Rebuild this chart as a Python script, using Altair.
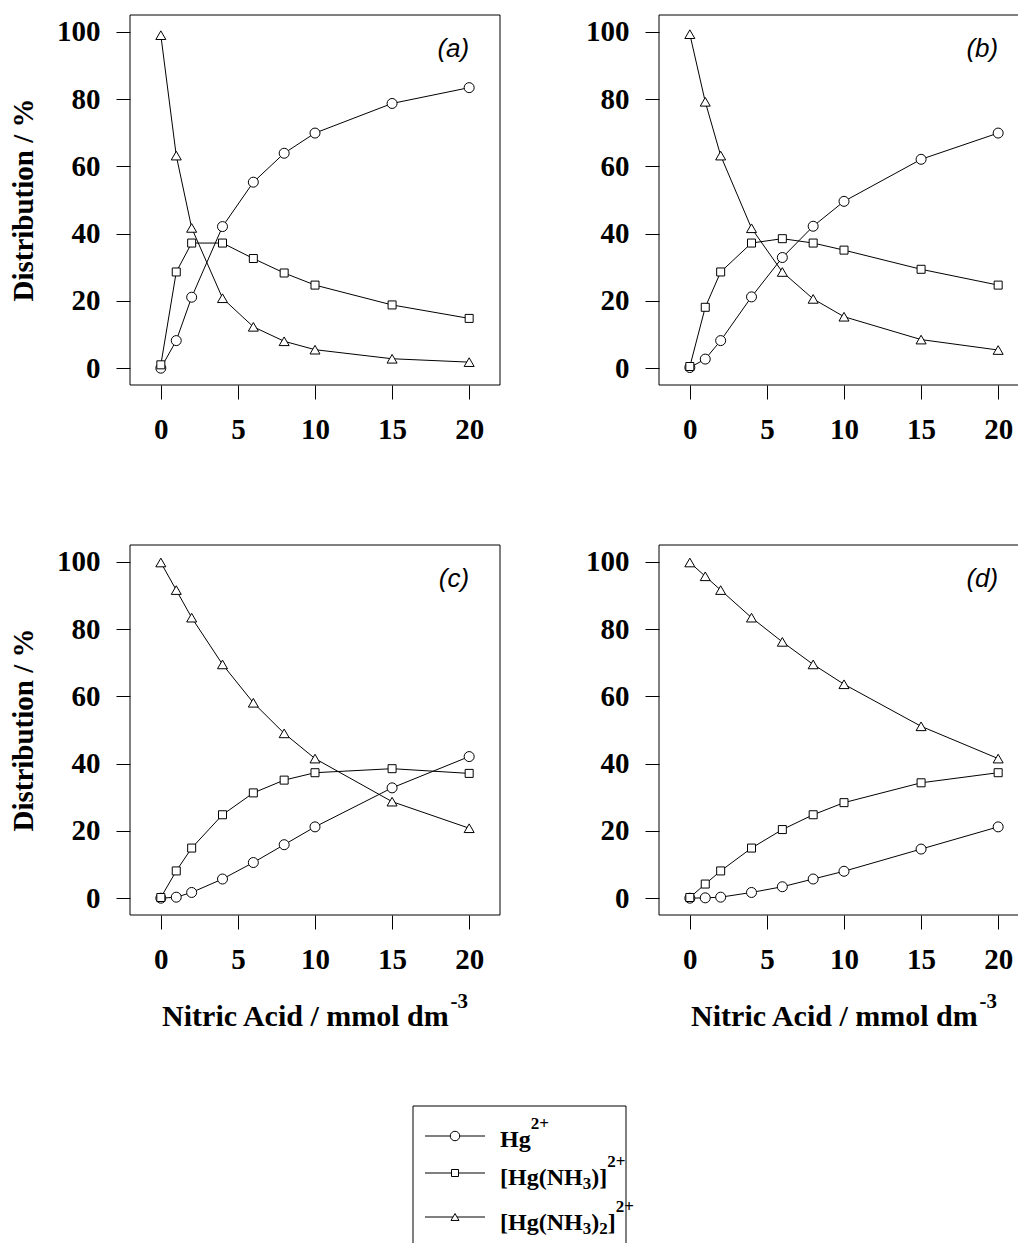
import altair as alt
import pandas as pd

# nitric acid concentration, mmol dm-3
conc = [0, 1, 2, 4, 6, 8, 10, 15, 20]

species = ["Hg2+", "[Hg(NH3)]2+", "[Hg(NH3)2]2+"]
shapes = ["circle", "square", "triangle-up"]

# distribution (%) of the three mercury species in each panel
a_hg = [0.0, 8.2, 21.1, 42.1, 55.3, 63.9, 69.9, 78.7, 83.4]
a_mono = [1.0, 28.6, 37.2, 37.2, 32.6, 28.3, 24.7, 18.8, 14.8]
a_bis = [99.0, 63.2, 41.7, 20.8, 12.3, 8.0, 5.5, 2.8, 1.8]

b_hg = [0.2, 2.7, 8.2, 21.2, 32.9, 42.2, 49.6, 62.1, 69.9]
b_mono = [0.5, 18.1, 28.6, 37.2, 38.5, 37.2, 35.1, 29.4, 24.7]
b_bis = [99.3, 79.2, 63.2, 41.6, 28.6, 20.6, 15.3, 8.5, 5.4]

c_hg = [0.0, 0.3, 1.7, 5.7, 10.6, 15.9, 21.2, 32.8, 42.1]
c_mono = [0.2, 8.1, 14.9, 24.8, 31.3, 35.1, 37.3, 38.5, 37.1]
c_bis = [99.8, 91.6, 83.4, 69.5, 58.1, 49.0, 41.5, 28.7, 20.8]

d_hg = [0.0, 0.1, 0.3, 1.7, 3.4, 5.7, 8.0, 14.6, 21.2]
d_mono = [0.2, 4.2, 8.1, 14.9, 20.4, 24.8, 28.4, 34.3, 37.3]
d_bis = [99.8, 95.7, 91.6, 83.4, 76.2, 69.5, 63.6, 51.1, 41.5]

x_ticks = [0, 5, 10, 15, 20]
y_ticks = [0, 20, 40, 60, 80, 100]

SERIF = "Liberation Serif"
SANS = "Liberation Sans"

PLOT_W, PLOT_H = 370, 370
RIGHT_W = 359
X_LO, X_HI = -2, 22
Y_LO, Y_HI = -5, 105
PX_PER_X = PLOT_W / (X_HI - X_LO)

# Times-compatible bold advance widths (em) for composing sub/superscripts
BOLD_W = {"[": .333, "]": .333, "(": .333, ")": .333, "H": .778, "g": .5,
          "N": .722, "2": .5, "3": .5, "+": .570, "-": .333, "i": .278,
          "t": .333, "r": .444, "c": .444, " ": .25, "A": .722, "d": .556,
          "/": .278, "m": .833, "o": .5, "l": .278}


def text_w(s, fs):
    return sum(BOLD_W[ch] for ch in s) * fs


def panel(tag, hg, mono, bis, width, left, bottom, anchor=False):
    x_hi = X_LO + width / PX_PER_X
    xs = alt.Scale(domain=[X_LO, x_hi], nice=False, zero=False)
    ys = alt.Scale(domain=[Y_LO, Y_HI], nice=False, zero=False)
    df = pd.DataFrame({
        "conc": conc * 3,
        "pct": hg + mono + bis,
        "species": [species[0]] * 9 + [species[1]] * 9 + [species[2]] * 9,
        "sz": [100] * 9 + [64] * 9 + [100] * 9,
    })
    x_axis = alt.Axis(values=x_ticks, format="d", title="", labelFlush=False,
                      labelOverlap=False, tickSize=14, labelPadding=16,
                      grid=False, domain=False)
    y_axis = alt.Axis(values=y_ticks, format="d", title="", labelFlush=False,
                      labelOverlap=False, tickSize=14, labelPadding=16,
                      grid=False, domain=False)

    # box around the plot area; the right-hand panels run past the page edge,
    # so their right side is left out
    if width == PLOT_W:
        frame = pd.DataFrame({
            "conc": [X_LO, X_LO, X_LO, x_hi],
            "conc2": [x_hi, x_hi, X_LO, x_hi],
            "pct": [Y_HI, Y_LO, Y_LO, Y_LO],
            "pct2": [Y_HI, Y_LO, Y_HI, Y_HI],
        })
    else:
        frame = pd.DataFrame({
            "conc": [X_LO, X_LO, X_LO],
            "conc2": [x_hi, x_hi, X_LO],
            "pct": [Y_HI, Y_LO, Y_LO],
            "pct2": [Y_HI, Y_LO, Y_HI],
        })
    box = alt.Chart(frame).mark_rule(color="black", strokeWidth=1).encode(
        x=alt.X("conc:Q", scale=xs, axis=x_axis), x2="conc2:Q",
        y=alt.Y("pct:Q", scale=ys, axis=y_axis), y2="pct2:Q",
    )

    base = alt.Chart(df).encode(
        x=alt.X("conc:Q", scale=xs, axis=x_axis),
        y=alt.Y("pct:Q", scale=ys, axis=y_axis),
    )
    lines = base.mark_line(color="black", strokeWidth=1).encode(detail="species:N")
    points = base.mark_point(filled=True, fill="white", stroke="black",
                             strokeWidth=1, opacity=1).encode(
        shape=alt.Shape("species:N", scale=alt.Scale(domain=species, range=shapes),
                        legend=None),
        size=alt.Size("sz:Q", scale=None),
    )
    tag_df = pd.DataFrame({"conc": [20], "pct": [95], "tag": [f"({tag})"]})
    label = alt.Chart(tag_df).mark_text(
        font=SANS, fontStyle="italic", fontSize=26, align="right",
        baseline="middle", color="black",
    ).encode(
        x=alt.X("conc:Q", scale=xs, axis=x_axis),
        y=alt.Y("pct:Q", scale=ys, axis=y_axis),
        text="tag:N",
    )
    layers = [box, lines, points, label]

    if left:
        layers.append(alt.Chart(pd.DataFrame({"t": ["Distribution / %"]})).mark_text(
            font=SERIF, fontWeight="bold", fontSize=29, angle=270, align="center",
            baseline="middle", color="black",
        ).encode(x=alt.value(-106), y=alt.value(PLOT_H / 2), text="t:N"))

    if bottom:
        main_t, sup_t = "Nitric Acid / mmol dm", "-3"
        fs_main, fs_sup = 30, 21
        total = text_w(main_t, fs_main) + text_w(sup_t, fs_sup)
        x0 = PLOT_W / 2 - total / 2
        layers.append(alt.Chart(pd.DataFrame({"t": [main_t]})).mark_text(
            font=SERIF, fontWeight="bold", fontSize=fs_main, align="left",
            baseline="alphabetic", color="black",
        ).encode(x=alt.value(x0), y=alt.value(PLOT_H + 111), text="t:N"))
        layers.append(alt.Chart(pd.DataFrame({"t": [sup_t]})).mark_text(
            font=SERIF, fontWeight="bold", fontSize=fs_sup, align="left",
            baseline="alphabetic", color="black",
        ).encode(x=alt.value(x0 + text_w(main_t, fs_main)),
                 y=alt.value(PLOT_H + 93), text="t:N"))

    if anchor:
        # fixes the page origin 130 px left of and 15 px above this panel
        layers.append(alt.Chart(pd.DataFrame({"k": [0]})).mark_point(
            size=0, opacity=0).encode(x=alt.value(-130), y=alt.value(-15)))

    return alt.layer(*layers).properties(width=width, height=PLOT_H)


pa = panel("a", a_hg, a_mono, a_bis, PLOT_W, True, False, anchor=True)
pb = panel("b", b_hg, b_mono, b_bis, RIGHT_W, False, False)
pc = panel("c", c_hg, c_mono, c_bis, PLOT_W, True, True)
pd_ = panel("d", d_hg, d_mono, d_bis, RIGHT_W, False, True)

# ---- key box under the panels (pixel scales) ----
LEG_W, LEG_H = 370, 168
lx = alt.Scale(domain=[0, LEG_W], nice=False, zero=False)
ly = alt.Scale(domain=[0, LEG_H], nice=False, zero=False, reverse=True)

box_l, box_r, box_t = 283, 496, 31
row_line = [61, 98, 142]
row_base = [72, 110, 155]
sample_x0, sample_x1, sample_mid = 295, 355, 325
text_x = 370

frame_df = pd.DataFrame({
    "x": [box_l, box_l, box_r],
    "x2": [box_r, box_l, box_r],
    "y": [box_t, box_t, box_t],
    "y2": [box_t, LEG_H, LEG_H],
})
frame = alt.Chart(frame_df).mark_rule(color="black", strokeWidth=1).encode(
    x=alt.X("x:Q", scale=lx, axis=None), x2="x2:Q",
    y=alt.Y("y:Q", scale=ly, axis=None), y2="y2:Q",
)

sample_df = pd.DataFrame({
    "species": species,
    "x": [sample_x0] * 3, "x2": [sample_x1] * 3, "xm": [sample_mid] * 3,
    "y": row_line,
    "sz": [90, 49, 64],
})
sample_lines = alt.Chart(sample_df).mark_rule(color="black", strokeWidth=1).encode(
    x=alt.X("x:Q", scale=lx, axis=None), x2="x2:Q",
    y=alt.Y("y:Q", scale=ly, axis=None),
)
sample_pts = alt.Chart(sample_df).mark_point(
    filled=True, fill="white", stroke="black", strokeWidth=1, opacity=1,
).encode(
    x=alt.X("xm:Q", scale=lx, axis=None),
    y=alt.Y("y:Q", scale=ly, axis=None),
    shape=alt.Shape("species:N", scale=alt.Scale(domain=species, range=shapes),
                    legend=None),
    size=alt.Size("sz:Q", scale=None),
)

# species labels written as pieces: 0 = normal, 1 = superscript, -1 = subscript
label_parts = [
    [("Hg", 0), ("2+", 1)],
    [("[Hg(NH", 0), ("3", -1), (")]", 0), ("2+", 1)],
    [("[Hg(NH", 0), ("3", -1), (")", 0), ("2", -1), ("]", 0), ("2+", 1)],
]
FS_MAIN, FS_SCRIPT = 24, 17
pieces = {"t": [], "x": [], "y": [], "fs": []}
for parts, base_y in zip(label_parts, row_base):
    cx = text_x
    for txt, kind in parts:
        fs = FS_MAIN if kind == 0 else FS_SCRIPT
        pieces["t"].append(txt)
        pieces["x"].append(cx)
        pieces["y"].append(base_y + (0 if kind == 0 else (-18 if kind == 1 else 4)))
        pieces["fs"].append(fs)
        cx += text_w(txt, fs)
pieces_df = pd.DataFrame(pieces)
key_text = alt.Chart(pieces_df).mark_text(
    font=SERIF, fontWeight="bold", align="left", baseline="alphabetic", color="black",
).encode(
    x=alt.X("x:Q", scale=lx, axis=None),
    y=alt.Y("y:Q", scale=ly, axis=None),
    text="t:N",
    size=alt.Size("fs:Q", scale=None),
)

key = alt.layer(frame, sample_lines, sample_pts, key_text).properties(
    width=LEG_W, height=LEG_H,
)

chart = alt.concat(
    pa, pb, pc, pd_, key, columns=2, bounds="flush",
    spacing={"row": 160, "column": 159}, padding=0, background="white",
).configure_view(
    stroke="transparent", strokeWidth=0,
).configure_axis(
    labelFont=SERIF, labelFontWeight="bold", labelFontSize=29,
    labelColor="black", tickColor="black", tickWidth=1,
)

chart.save("out.html", embed_options={"renderer": "svg", "actions": False})
